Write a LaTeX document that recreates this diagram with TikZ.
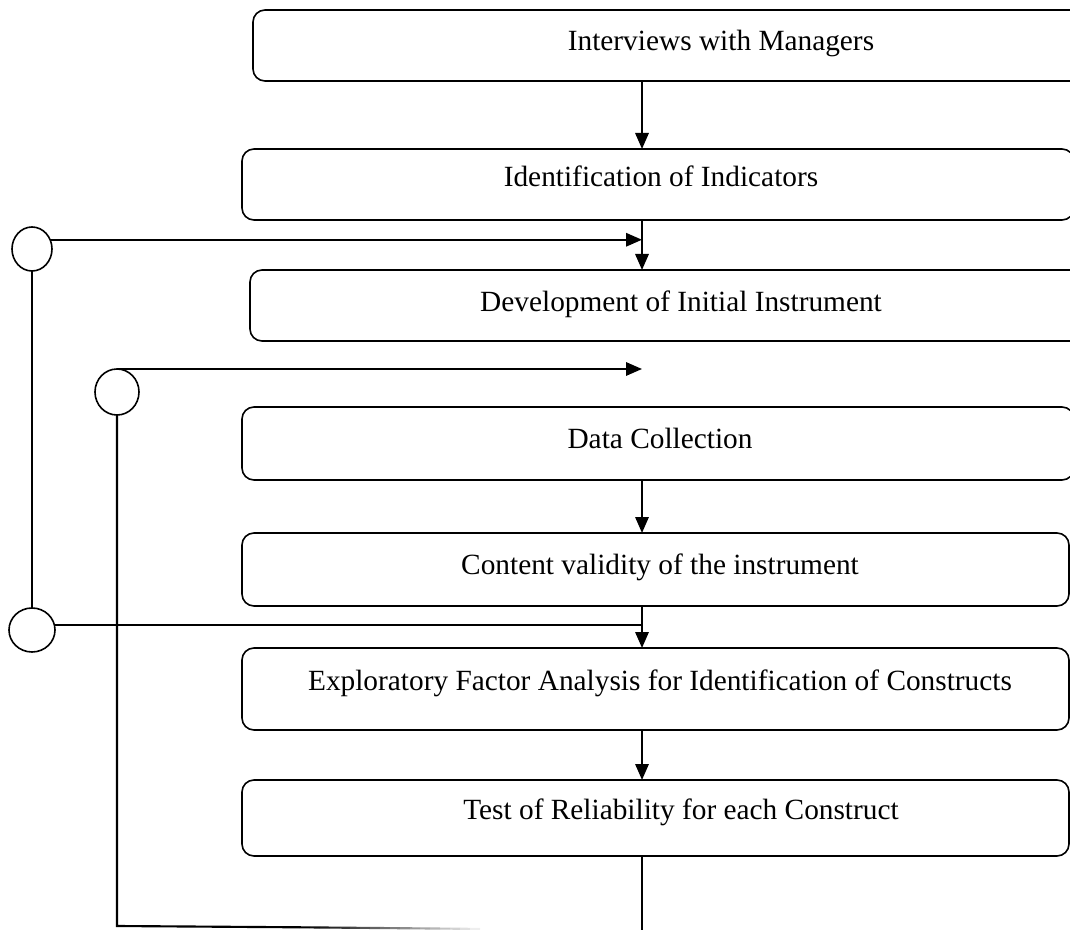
\documentclass[tikz,border=0pt]{standalone}
\usepackage{fontspec}
\setmainfont{Liberation Serif}
\usetikzlibrary{shapes.geometric,arrows.meta}

\tikzset{
  stage/.style={draw, line width=1.2pt, rounded corners=9pt, inner sep=0pt, outer sep=0pt, anchor=north west},
  caption/.style={anchor=base, inner sep=0pt, font=\fontsize{22}{26}\selectfont},
  junction/.style={draw, ellipse, line width=1.2pt, inner sep=0pt, outer sep=0pt},
  wire/.style={line width=1.6pt},
  flow/.style={wire, -{Triangle[length=12pt,width=10pt]}},
}

\begin{document}
\begin{tikzpicture}[x=0.75pt, y=-0.75pt]
  \useasboundingbox (0,0) rectangle (1070,930);
  \clip (0,0) rectangle (1070,930);

  % process stages
  \node[stage, minimum width=702.75pt, minimum height=53.25pt] (b1) at (253,10)  {};
  \node[stage, minimum width=624pt,    minimum height=53.25pt] (b2) at (242,149) {};
  \node[stage, minimum width=646.5pt,  minimum height=53.25pt] (b3) at (250,270) {};
  \node[stage, minimum width=624pt,    minimum height=54.75pt] (b4) at (242,407) {};
  \node[stage, minimum width=620.25pt, minimum height=54.75pt] (b5) at (242,533) {};
  \node[stage, minimum width=620.25pt, minimum height=61.5pt]  (b6) at (242,648) {};
  \node[stage, minimum width=620.25pt, minimum height=57pt]    (b7) at (242,780) {};

  \node[caption] (t1) at (721,50.5) {Interviews with Managers};
  \node[caption] (t2) at (661,187)  {Identification of Indicators};
  \node[caption] (t3) at (681,312)  {Development of Initial Instrument};
  \node[caption] (t4) at (660,448)  {Data Collection};
  \node[caption] (t5) at (660,574)  {Content validity of the instrument};
  \node[caption] (t6) at (660,690)  {Exploratory Factor Analysis for Identification of Constructs};
  \node[caption] (t7) at (681,819)  {Test of Reliability for each Construct};

  % feedback junctions
  \node[junction, minimum width=30pt,   minimum height=33pt]   (c1) at (32,249)  {};
  \node[junction, minimum width=33pt,   minimum height=34.5pt] (c2) at (117,392) {};
  \node[junction, minimum width=34.5pt, minimum height=33pt]   (c3) at (32,630)  {};

  % reference points
  \coordinate (spine) at (642,0);
  \coordinate (floor) at (0,926);
  \coordinate (fadeA) at (300,927.3);
  \coordinate (edge)  at (0,932);

  % main sequence
  \draw[flow] (b1.south -| spine) -- (b2.north -| spine);
  \draw[flow] (b2.south -| spine) -- (b3.north -| spine);
  \draw[flow] (b4.south -| spine) -- (b5.north -| spine);
  \draw[flow] (b5.south -| spine) -- (b6.north -| spine);
  \draw[flow] (b6.south -| spine) -- (b7.north -| spine);
  \draw[wire] (b7.south -| spine) -- (spine |- edge);

  % first feedback loop
  \draw[flow] (c1.27) -- (c1.27 -| spine);
  \draw[wire] (c1.south) -- (c3.north);
  \draw[wire] (c3.13) -- (c3.13 -| spine);

  % second feedback loop
  \draw[flow] (c2.north) -- (c2.north -| spine);
  \draw[wire] (c2.south) -- (c2.south |- floor) -- (fadeA);
  \foreach \k in {0,...,17} {
    \pgfmathsetmacro{\xa}{300+\k*10}
    \pgfmathsetmacro{\xb}{310+\k*10}
    \pgfmathsetmacro{\ya}{927.3+\k*0.09}
    \pgfmathsetmacro{\yb}{927.3+(\k+1)*0.09}
    \pgfmathsetmacro{\shadepct}{100-\k*5.5}
    \draw[wire, black!\shadepct] (\xa,\ya) -- (\xb,\yb);
  }
\end{tikzpicture}
\end{document}
